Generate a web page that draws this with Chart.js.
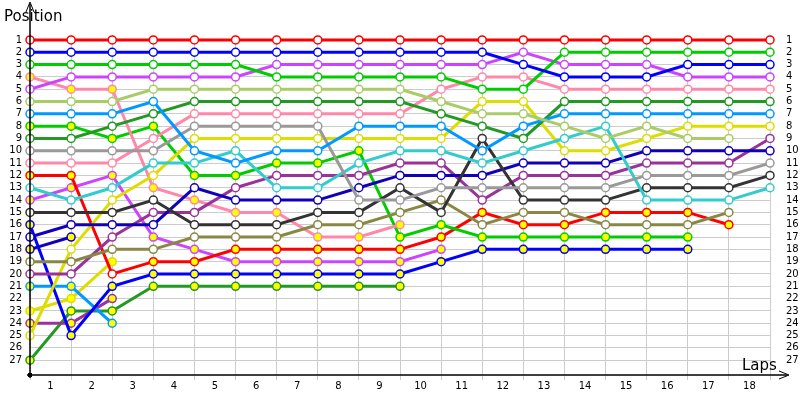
<!DOCTYPE html>
<html>
<head>
<meta charset="utf-8">
<script src="https://cdn.jsdelivr.net/npm/chart.js@4/dist/chart.umd.min.js"></script>
<style>
  html, body { margin: 0; padding: 0; background: #fff; }
  #wrap { width: 800px; height: 400px; }
</style>
</head>
<body>
<div id="wrap"><canvas id="raceChart"></canvas></div>
<script>
// laps 0..18, position of each car at the end of each lap (null = out of the race)
const laps = [0, 1, 2, 3, 4, 5, 6, 7, 8, 9, 10, 11, 12, 13, 14, 15, 16, 17, 18];
const positionTicks = [1, 2, 3, 4, 5, 6, 7, 8, 9, 10, 11, 12, 13, 14, 15, 16, 17, 18, 19, 20, 21, 22, 23, 24, 25, 26, 27];

const redA       = [1, 1, 1, 1, 1, 1, 1, 1, 1, 1, 1, 1, 1, 1, 1, 1, 1, 1, 1];
const blueA      = [2, 2, 2, 2, 2, 2, 2, 2, 2, 2, 2, 2, 3, 4, 4, 4, 3, 3, 3];
const greenA     = [3, 3, 3, 3, 3, 3, 4, 4, 4, 4, 4, 5, 5, 2, 2, 2, 2, 2, 2];
const pinkB      = [4, 5, 5, 13, 14, 15, 15, 17, 17, 16, null, null, null, null, null, null, null, null, null];
const magentaA   = [5, 4, 4, 4, 4, 4, 3, 3, 3, 3, 3, 3, 2, 3, 3, 3, 4, 4, 4];
const lightGreen = [6, 6, 6, 5, 5, 5, 5, 5, 5, 5, 6, 7, 7, 8, 9, 8, 9, 9, null];
const lightBlueA = [7, 7, 7, 6, 10, 11, 10, 10, 8, 8, 8, 10, 8, 7, 7, 7, 7, 7, 7];
const greenB     = [8, 8, 9, 8, 12, 12, 11, 11, 10, 17, 16, 17, 17, 17, 17, 17, 17, null, null];
const darkGreenA = [9, 9, 8, 7, 6, 6, 6, 6, 6, 6, 7, 8, 9, 6, 6, 6, 6, 6, 6];
const grayA      = [10, 10, 10, 10, 8, 8, 8, 8, 14, 14, 13, 13, 13, 13, 13, 12, 12, 12, 11];
const pinkA      = [11, 11, 11, 9, 7, 7, 7, 7, 7, 7, 5, 4, 4, 5, 5, 5, 5, 5, 5];
const redB       = [12, 12, 20, 19, 19, 18, 18, 18, 18, 18, 17, 15, 16, 16, 15, 15, 15, 16, null];
const cyanA      = [13, 14, 13, 11, 11, 10, 13, 13, 11, 10, 10, 11, 10, 9, 8, 14, 14, 14, 13];
const magentaB   = [14, 13, 12, 17, 18, 19, 19, 19, 19, 19, 18, null, null, null, null, null, null, null, null];
const darkGrayA  = [15, 15, 15, 14, 16, 16, 16, 15, 15, 13, 15, 9, 14, 14, 14, 13, 13, 13, 12];
const blueB      = [16, 25, 21, 20, 20, 20, 20, 20, 20, 20, 19, 18, 18, 18, 18, 18, 18, null, null];
const darkBlueA  = [17, 16, 16, 16, 13, 14, 14, 14, 13, 12, 12, 12, 11, 11, 11, 10, 10, 10, 10];
const darkBlueB  = [18, 17, null, null, null, null, null, null, null, null, null, null, null, null, null, null, null, null, null];
const oliveA     = [19, 19, 18, 18, 17, 17, 17, 16, 16, 15, 14, 16, 15, 15, 16, 16, 16, 15, null];
const purpleA    = [20, 20, 17, 15, 15, 13, 12, 12, 12, 11, 11, 14, 12, 12, 12, 11, 11, 11, 9];
const lightBlueB = [21, 21, 24, null, null, null, null, null, null, null, null, null, null, null, null, null, null, null, null];
const yellowB    = [23, 22, 19, null, null, null, null, null, null, null, null, null, null, null, null, null, null, null, null];
const purpleB    = [24, 24, 22, null, null, null, null, null, null, null, null, null, null, null, null, null, null, null, null];
const yellowA    = [25, 18, 14, 12, 9, 9, 9, 9, 9, 9, 9, 6, 6, 10, 10, 9, 8, 8, 8];
const darkGreenB = [27, 23, 23, 21, 21, 21, 21, 21, 21, 21, null, null, null, null, null, null, null, null, null];

// laps drawn with a yellow marker ('y') instead of a white one ('.')
const markA     = '...................';
const markAllY  = 'yyyyyyyyyyyyyyyyyyy';
const markRedB  = 'yy.yyyyyyyyyyyyyyyy';

const cars = [
  { name: 'redA', data: redA, color: '#ff0000', mark: markA },
  { name: 'blueA', data: blueA, color: '#0000ff', mark: markA },
  { name: 'greenA', data: greenA, color: '#00cc00', mark: markA },
  { name: 'magentaA', data: magentaA, color: '#cc44ff', mark: markA },
  { name: 'lightGreen', data: lightGreen, color: '#aacc66', mark: markA },
  { name: 'lightBlueA', data: lightBlueA, color: '#0099ff', mark: markA },
  { name: 'darkGreenA', data: darkGreenA, color: '#229922', mark: markA },
  { name: 'grayA', data: grayA, color: '#999999', mark: markA },
  { name: 'pinkA', data: pinkA, color: '#ff88aa', mark: markA },
  { name: 'cyanA', data: cyanA, color: '#33cccc', mark: markA },
  { name: 'darkGrayA', data: darkGrayA, color: '#333333', mark: markA },
  { name: 'darkBlueA', data: darkBlueA, color: '#1100bb', mark: markA },
  { name: 'oliveA', data: oliveA, color: '#888844', mark: markA },
  { name: 'purpleA', data: purpleA, color: '#993399', mark: markA },
  { name: 'yellowA', data: yellowA, color: '#dddd00', mark: markA },
  { name: 'pinkB', data: pinkB, color: '#ff88aa', mark: markAllY },
  { name: 'greenB', data: greenB, color: '#00cc00', mark: markAllY },
  { name: 'redB', data: redB, color: '#ff0000', mark: markRedB },
  { name: 'magentaB', data: magentaB, color: '#cc44ff', mark: markAllY },
  { name: 'blueB', data: blueB, color: '#0000ff', mark: markAllY },
  { name: 'darkBlueB', data: darkBlueB, color: '#1100bb', mark: markAllY },
  { name: 'lightBlueB', data: lightBlueB, color: '#0099ff', mark: markAllY },
  { name: 'yellowB', data: yellowB, color: '#dddd00', mark: markAllY },
  { name: 'purpleB', data: purpleB, color: '#993399', mark: markAllY },
  { name: 'darkGreenB', data: darkGreenB, color: '#229922', mark: markAllY }
];

const datasets = cars.map(c => ({
  label: c.name,
  data: laps.map((lap, i) => ({ x: lap, y: c.data[i] })),
  borderColor: c.color,
  borderWidth: 3,
  pointRadius: 4,
  pointBorderWidth: 1.5,
  pointBorderColor: c.color,
  pointBackgroundColor: laps.map((lap, i) => c.mark[i] === 'y' ? '#ffff00' : '#ffffff'),
  tension: 0,
  spanGaps: false,
  clip: false
}));

// axis lines with arrow heads plus the "Position" / "Laps" captions
const axisDecor = {
  id: 'axisDecor',
  afterDraw(chart) {
    const { ctx, chartArea } = chart;
    const x0 = chartArea.left, y0 = chartArea.bottom;
    ctx.save();
    ctx.strokeStyle = '#000';
    ctx.fillStyle = '#000';
    ctx.lineWidth = 1.5;
    ctx.beginPath();
    ctx.moveTo(x0, y0 + 3);
    ctx.lineTo(x0, 4);
    ctx.moveTo(x0 - 3, y0);
    ctx.lineTo(787, y0);
    ctx.stroke();
    // arrows
    ctx.lineWidth = 1;
    ctx.beginPath();
    ctx.moveTo(x0 - 4, 12); ctx.lineTo(x0, 2); ctx.lineTo(x0 + 4, 12);
    ctx.stroke();
    ctx.beginPath();
    ctx.moveTo(779, y0 - 4); ctx.lineTo(789, y0); ctx.lineTo(779, y0 + 4);
    ctx.stroke();
    ctx.fillRect(x0 - 2, y0 - 2, 4, 4);
    ctx.font = '15px "DejaVu Sans", sans-serif';
    ctx.textBaseline = 'alphabetic';
    ctx.textAlign = 'left';
    ctx.fillText('Position', 4, 21);
    ctx.fillText('Laps', 742, 370);
    ctx.restore();
  }
};

new Chart(document.getElementById('raceChart'), {
  type: 'line',
  data: { datasets: datasets },
  options: {
    responsive: true,
    maintainAspectRatio: false,
    animation: false,
    events: [],
    layout: { padding: { top: 35, left: 0, right: 0, bottom: 0 } },
    plugins: {
      legend: { display: false },
      tooltip: { enabled: false }
    },
    scales: {
      x: {
        type: 'linear',
        min: 0,
        max: 18,
        afterBuildTicks: s => {
          const t = [];
          laps.forEach(l => {
            t.push({ value: l });
            if (l < 18) t.push({ value: l + 0.5 });
          });
          s.ticks = t;
        },
        afterFit: s => { s.height = 25; },
        border: { display: false },
        grid: {
          color: c => (c.tick && Number.isInteger(c.tick.value)) ? '#cccccc' : 'rgba(0,0,0,0)',
          lineWidth: 1,
          drawTicks: true,
          tickLength: 5
        },
        ticks: {
          autoSkip: false,
          maxRotation: 0,
          padding: 0,
          color: '#000',
          font: { family: 'DejaVu Sans', size: 10 },
          callback: v => Number.isInteger(v) ? '' : String(v + 0.5)
        }
      },
      y: {
        type: 'linear',
        position: 'left',
        reverse: true,
        min: 0.6,
        max: 28.2,
        afterBuildTicks: s => { s.ticks = positionTicks.map(p => ({ value: p })); },
        afterFit: s => { s.width = 30; },
        border: { display: false },
        grid: { color: '#cccccc', drawTicks: false },
        ticks: {
          autoSkip: false,
          padding: 8,
          color: '#000',
          font: { family: 'DejaVu Sans', size: 10 }
        }
      },
      y2: {
        type: 'linear',
        position: 'right',
        reverse: true,
        min: 0.6,
        max: 28.2,
        afterBuildTicks: s => { s.ticks = positionTicks.map(p => ({ value: p })); },
        afterFit: s => { s.width = 30; },
        border: { display: false },
        grid: { display: false },
        ticks: {
          autoSkip: false,
          padding: 8,
          color: '#000',
          font: { family: 'DejaVu Sans', size: 10 }
        }
      }
    }
  },
  plugins: [axisDecor]
});
</script>
</body>
</html>
